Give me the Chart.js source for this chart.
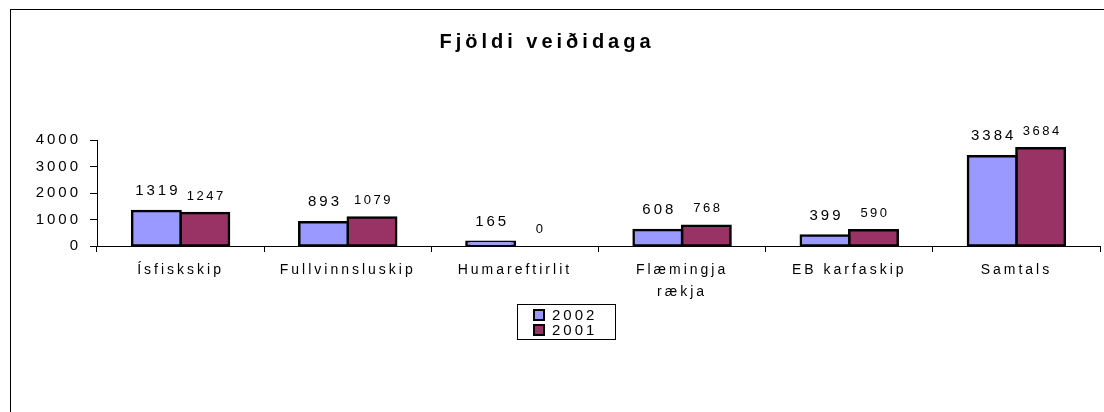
<!DOCTYPE html>
<html>
<head>
<meta charset="utf-8">
<script src="https://cdn.jsdelivr.net/npm/chart.js@4"></script>
<style>
  body { margin: 0; background: #fff; }
  #wrap { width: 1104px; height: 412px; position: relative; }
</style>
</head>
<body>
<div id="wrap"><canvas id="daysChart"></canvas></div>
<script>
const categories = ["Ísfiskskip", "Fullvinnsluskip", "Humareftirlit", ["Flæmingja", "rækja"], "EB karfaskip", "Samtals"];
const days2002 = [1319, 893, 165, 608, 399, 3384];
const days2001 = [1247, 1079, 0, 768, 590, 3684];
const yTicks = [0, 1000, 2000, 3000, 4000];
const seriesNames = ["2002", "2001"];
const chartTitle = "Fjöldi veiðidaga";

const fontFamily = "'Liberation Sans', Arial, sans-serif";

// frame, title, value labels and the boxed legend
const extras = {
  id: "extras",
  beforeDraw(chart) {
    const ctx = chart.ctx;
    ctx.letterSpacing = "3px";
    ctx.save();
    ctx.fillStyle = "#fff";
    ctx.fillRect(0, 0, chart.width, chart.height);
    ctx.strokeStyle = "#000";
    ctx.lineWidth = 1;
    ctx.strokeRect(10.5, 9.5, 1200, 600);
    ctx.restore();
  },
  afterDatasetsDraw(chart) {
    const ctx = chart.ctx;
    ctx.save();
    ctx.fillStyle = "#000";
    ctx.textAlign = "center";
    ctx.textBaseline = "middle";
    chart.data.datasets.forEach((ds, i) => {
      const meta = chart.getDatasetMeta(i);
      ctx.letterSpacing = i === 0 ? "3px" : "2.5px";
      ctx.font = (i === 0 ? "15px " : "13px ") + fontFamily;
      const off = i === 0 ? 20 : 17;
      meta.data.forEach((bar, j) => {
        ctx.fillText(String(ds.data[j]), bar.x + 1.5, bar.y - off);
      });
    });
    ctx.restore();
  },
  afterDraw(chart) {
    const ctx = chart.ctx;
    ctx.save();
    // title
    ctx.fillStyle = "#000";
    ctx.textAlign = "center";
    ctx.textBaseline = "middle";
    ctx.letterSpacing = "4px";
    ctx.font = "bold 20px " + fontFamily;
    ctx.fillText(chartTitle, 547, 42);

    // legend
    const lx = 517, ly = 304, lw = 98, lh = 35;
    ctx.strokeStyle = "#000";
    ctx.lineWidth = 1;
    ctx.strokeRect(lx + 0.5, ly + 0.5, lw, lh);
    ctx.letterSpacing = "3px";
    ctx.font = "15px " + fontFamily;
    ctx.textAlign = "left";
    chart.data.datasets.forEach((ds, i) => {
      const cy = 315 + i * 15;
      ctx.fillStyle = ds.backgroundColor;
      ctx.fillRect(534, cy - 5, 10, 10);
      ctx.lineWidth = 2;
      ctx.strokeRect(534, cy - 5, 10, 10);
      ctx.fillStyle = "#000";
      ctx.fillText(ds.label, 552, cy + 1);
    });
    ctx.restore();
  }
};

// border centred on the bar edge, like the original
const inflate = c => (c.raw === 0 ? 0 : 1.25);

new Chart(document.getElementById("daysChart"), {
  type: "bar",
  data: {
    labels: categories,
    datasets: [
      { label: seriesNames[0], data: days2002, backgroundColor: "#9999FF", borderColor: "#000",
        borderWidth: 2.5, borderSkipped: false, inflateAmount: inflate },
      { label: seriesNames[1], data: days2001, backgroundColor: "#993366", borderColor: "#000",
        borderWidth: c => (c.raw === 0 ? 0 : 2.5), borderSkipped: false, inflateAmount: inflate }
    ]
  },
  options: {
    responsive: true,
    maintainAspectRatio: false,
    animation: false,
    categoryPercentage: 0.58,
    barPercentage: 1,
    layout: { padding: { left: 0, right: 4, top: 140, bottom: 106 } },
    plugins: {
      legend: { display: false },
      title: { display: false },
      tooltip: { enabled: false }
    },
    scales: {
      x: {
        afterFit(scale) { scale.height = 60; },
        grid: { offset: true, drawOnChartArea: false, color: "#000", tickLength: 6 },
        border: { color: "#000", width: 1 },
        ticks: {
          color: "#000",
          font: { family: fontFamily, size: 14, lineHeight: 1.6 },
          padding: 7,
          maxRotation: 0,
          autoSkip: false
        }
      },
      y: {
        min: 0,
        max: 4000,
        afterFit(scale) { scale.width = 97; },
        afterBuildTicks(scale) { scale.ticks = yTicks.map(v => ({ value: v })); },
        grid: { drawOnChartArea: false, color: "#000", tickLength: 7 },
        border: { color: "#000", width: 1 },
        ticks: {
          color: "#000",
          font: { family: fontFamily, size: 15 },
          padding: 9,
          callback: v => String(v)
        }
      }
    }
  },
  plugins: [extras]
});
</script>
</body>
</html>
